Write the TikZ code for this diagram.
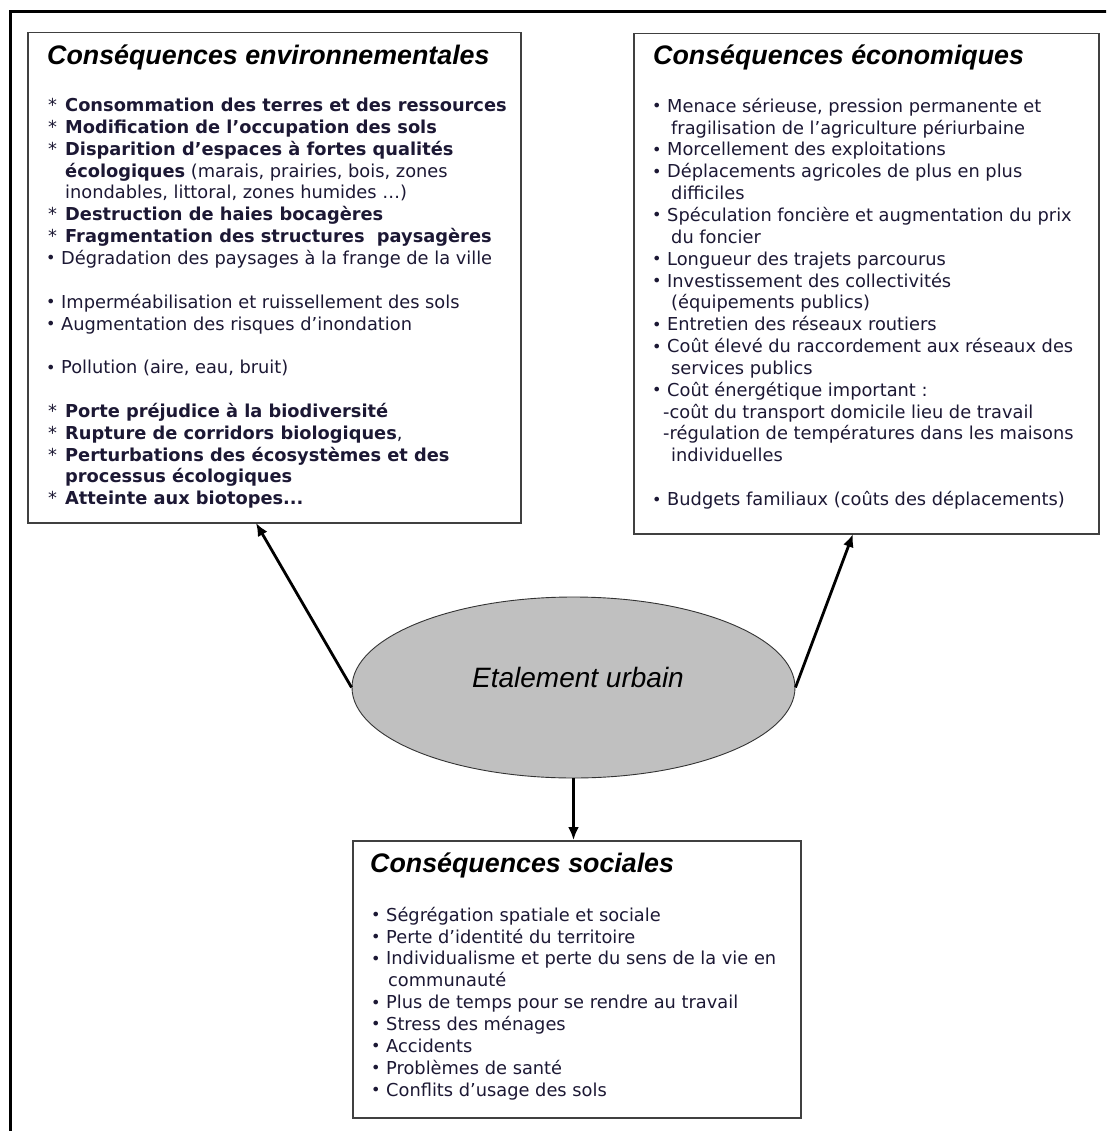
\documentclass[tikz,border=0pt]{standalone}
\usepackage{fontspec}
\setmainfont{DejaVu Sans}
\newfontfamily\arialfont{Liberation Sans}
\usetikzlibrary{shapes.geometric,arrows.meta}
\definecolor{boxline}{HTML}{404040}
\definecolor{ellfill}{HTML}{C0C0C0}
\definecolor{txt}{HTML}{1C1834}
\newcommand\bodyfont{\fontsize{17.8}{21.85}\selectfont}
\newcommand\titfont{\arialfont\bfseries\itshape\fontsize{26.8}{30}\selectfont}
\newcommand\etalfont{\arialfont\itshape\fontsize{28}{32}\selectfont}
\newcommand\stitem{\makebox[17pt][l]{*}}
\newcommand\bdot{{\fontsize{16}{16}\selectfont\raisebox{0.5pt}{•}}}
\newcommand\bitemL{\makebox[13pt][l]{\hspace{-2pt}\bdot}}
\newcommand\bitemR{\makebox[12pt][l]{\hspace{-3pt}\bdot}}
\newcommand\lines[2]{\parbox[t]{#1}{\raggedright\bodyfont\color{txt}#2}}
\begin{document}
\begin{tikzpicture}[x=1pt,y=-1pt,
  cbox/.style={draw=boxline,line width=1.5pt,fill=white,inner sep=0pt,anchor=north west},
  title/.style={anchor=base west,inner sep=0pt,font=\titfont},
  body/.style={anchor=base west,inner sep=0pt},
  ell/.style={ellipse,draw=black!80,line width=0.9pt,fill=ellfill,inner sep=0pt,minimum width=443pt,minimum height=181pt},
  conn/.style={line width=2.8pt,-{Latex[length=13pt,width=11pt]}},
  frame/.style={line width=3pt,draw=black}]
\useasboundingbox (0,0) rectangle (1106,1131);
\begin{scope}
\clip (0,0) rectangle (1106,1131);
\draw[frame] (10,12) rectangle (1140,1160);
\end{scope}

% boxes
\node[cbox,minimum width=493pt,minimum height=490pt] (env) at (27,32) {};
\node[cbox,minimum width=465pt,minimum height=500pt] (eco) at (633,33) {};
\node[cbox,minimum width=448pt,minimum height=277pt] (soc) at (352,840) {};
\node[ell] (ell) at (573.5,687.5) {};
\node[inner sep=0pt,font=\etalfont] (etal) at (578,677) {Etalement urbain};

% titles
\node[title] (envt) at (47,65) {Conséquences environnementales};
\node[title] (ecot) at (653,65) {Conséquences économiques};
\node[title] (soct) at (370,872) {Conséquences sociales};

% environment list
\node[body] (envl) at (48,98) {\lines{470pt}{%
\stitem\textbf{Consommation des terres et des ressources}\\
\stitem\textbf{Modification de l’occupation des sols}\\
\stitem\textbf{Disparition d’espaces à fortes qualités}\\
\hspace*{17pt}\textbf{écologiques} (marais, prairies, bois, zones\\
\hspace*{17pt}inondables, littoral, zones humides …)\\
\stitem\textbf{Destruction de haies bocagères}\\
\stitem\textbf{Fragmentation des structures\ \ paysagères}\\
\bitemL Dégradation des paysages à la frange de la ville\\[21.85pt]
\bitemL Imperméabilisation et ruissellement des sols\\
\bitemL Augmentation des risques d’inondation\\[21.85pt]
\bitemL Pollution (aire, eau, bruit)\\[21.85pt]
\stitem\textbf{Porte préjudice à la biodiversité}\\
\stitem\textbf{Rupture de corridors biologiques},\\
\stitem\textbf{Perturbations des écosystèmes et des}\\
\hspace*{17pt}\textbf{processus écologiques}\\
\stitem\textbf{Atteinte aux biotopes...}}};

% economic list
\node[body] (ecol) at (655,98) {\lines{440pt}{%
\bitemR Menace sérieuse, pression permanente et\\
\hspace*{16pt}fragilisation de l’agriculture périurbaine\\
\bitemR Morcellement des exploitations\\
\bitemR Déplacements agricoles de plus en plus\\
\hspace*{16pt}difficiles\\
\bitemR Spéculation foncière et augmentation du prix\\
\hspace*{16pt}du foncier\\
\bitemR Longueur des trajets parcourus\\
\bitemR Investissement des collectivités\\
\hspace*{16pt}(équipements publics)\\
\bitemR Entretien des réseaux routiers\\
\bitemR Coût élevé du raccordement aux réseaux des\\
\hspace*{16pt}services publics\\
\bitemR Coût énergétique important :\\
\hspace*{8pt}-coût du transport domicile lieu de travail\\
\hspace*{8pt}-régulation de températures dans les maisons\\
\hspace*{16pt}individuelles\\[21.85pt]
\bitemR Budgets familiaux (coûts des déplacements)}};

% social list
\node[body] (socl) at (374,907) {\lines{420pt}{%
\bitemR Ségrégation spatiale et sociale\\
\bitemR Perte d’identité du territoire\\
\bitemR Individualisme et perte du sens de la vie en\\
\hspace*{14pt}communauté\\
\bitemR Plus de temps pour se rendre au travail\\
\bitemR Stress des ménages\\
\bitemR Accidents\\
\bitemR Problèmes de santé\\
\bitemR Conflits d’usage des sols}};

% connectors
\coordinate (envtip) at (256,523);
\coordinate (ecotip) at (853,534);
\draw[conn] (ell.west) -- (envtip);
\draw[conn] (ell.east) -- (ecotip);
\draw[conn] (ell.south) -- (ell.south |- soc.north);
\end{tikzpicture}
\end{document}
